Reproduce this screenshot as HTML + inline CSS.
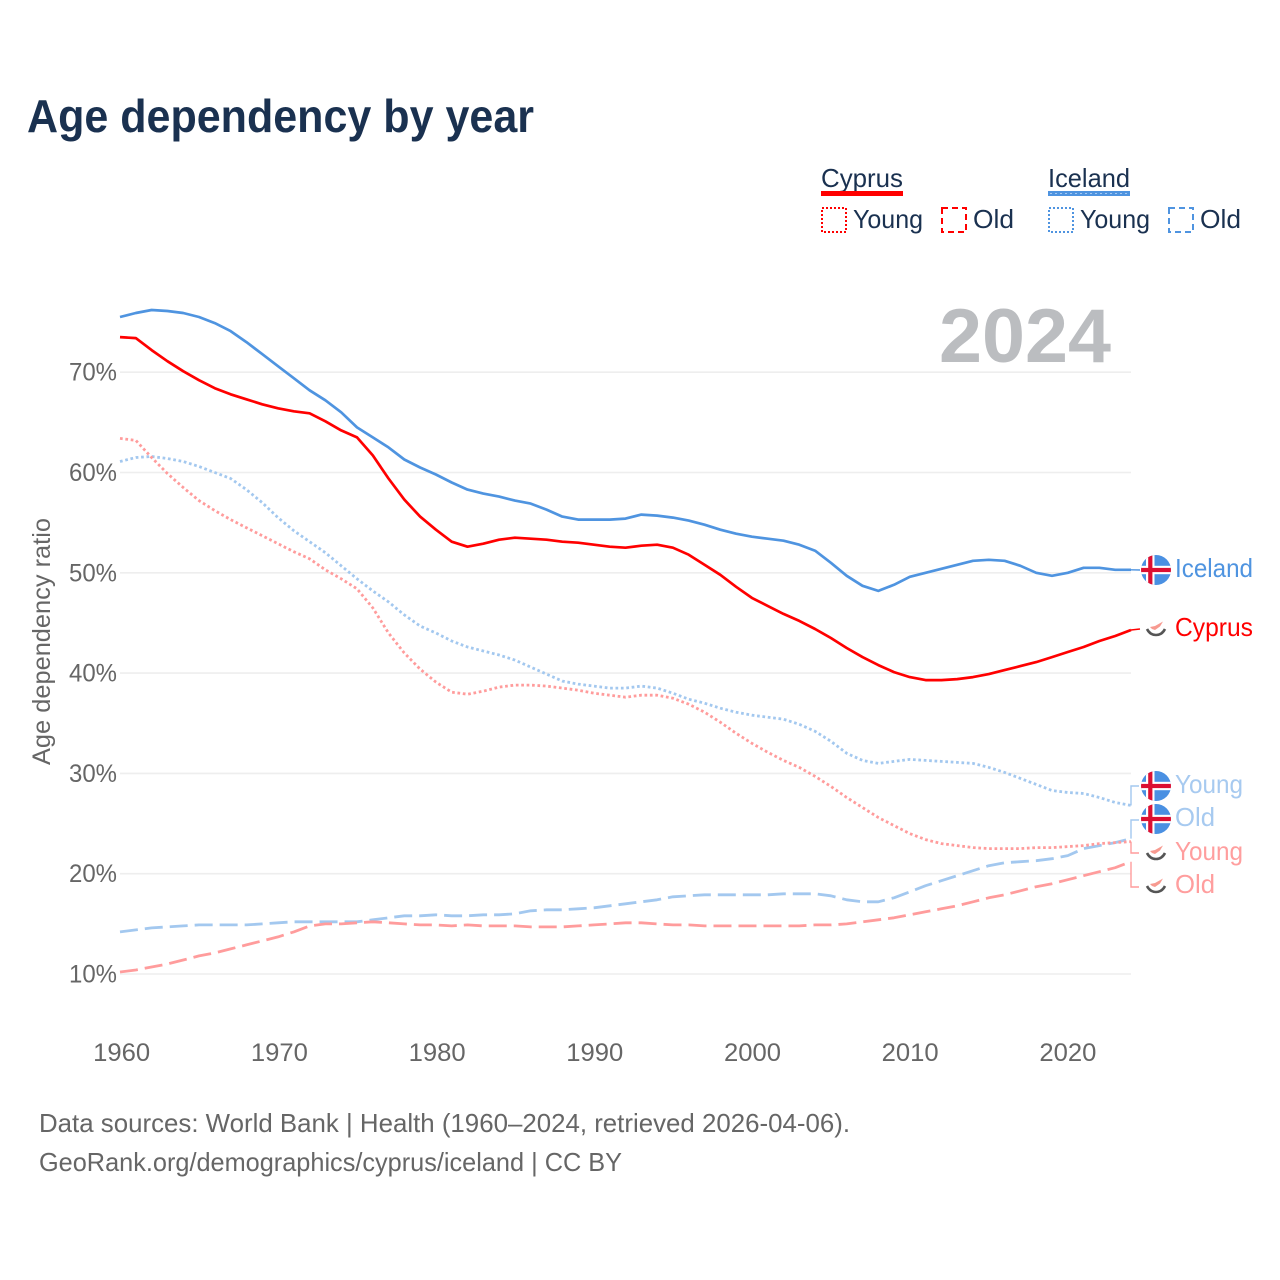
<!DOCTYPE html>
<html lang="en">
<head>
<meta charset="utf-8">
<title>Age dependency by year</title>
<style>
html,body{margin:0;padding:0;background:#fff}
svg{display:block}
text{font-family:"Liberation Sans",sans-serif}
</style>
</head>
<body>
<svg id="chart" xmlns="http://www.w3.org/2000/svg" width="1280" height="1280" viewBox="0 0 1280 1280">
<defs>
<clipPath id="flag-clip"><circle cx="0" cy="0" r="15"/></clipPath>
<g id="flag-iceland">
<g clip-path="url(#flag-clip)">
<rect x="-15" y="-15" width="30" height="30" fill="#4a90e2"/>
<rect x="-10" y="-15" width="8.5" height="30" fill="#fff"/>
<rect x="-15" y="-4.2" width="30" height="8.4" fill="#fff"/>
<rect x="-7.8" y="-15" width="4.2" height="30" fill="#dc0f32"/>
<rect x="-15" y="-2.1" width="30" height="4.2" fill="#dc0f32"/>
</g>
</g>
<g id="flag-cyprus">
<circle r="15" fill="#fff"/>
<path d="M-6,-1 L-1,-2 L7,-6.5 L4,-1.5 L-1,2 L-4,1 Z" fill="#f79a90"/>
<path d="M-9,1 Q-6,7 0,7 Q6,7 9,1" fill="none" stroke="#555" stroke-width="2.6"/>
</g>
</defs>

<text x="27" y="132" font-size="46" font-weight="700" fill="#1a3150" textLength="507" lengthAdjust="spacingAndGlyphs">Age dependency by year</text>

<g>
<text x="821" y="187" font-size="26" fill="#1a3150" textLength="82" lengthAdjust="spacingAndGlyphs">Cyprus</text>
<rect x="821" y="191" width="82" height="5" fill="#ff0000"/>
<rect x="822" y="208" width="24" height="24" fill="none" stroke="#ff0000" stroke-width="2" stroke-dasharray="2 2"/>
<text x="853" y="228" font-size="26" fill="#1a3150" textLength="70" lengthAdjust="spacingAndGlyphs">Young</text>
<rect x="942" y="208" width="24" height="24" fill="none" stroke="#ff0000" stroke-width="2" stroke-dasharray="6 4"/>
<text x="973" y="228" font-size="26" fill="#1a3150" textLength="41" lengthAdjust="spacingAndGlyphs">Old</text>

<text x="1048" y="187" font-size="26" fill="#1a3150" textLength="82" lengthAdjust="spacingAndGlyphs">Iceland</text>
<rect x="1048" y="191" width="82" height="5" fill="#4f94e0"/>
<line x1="1050" x2="1129" y1="193.5" y2="193.5" stroke="#a7caf0" stroke-width="1" stroke-dasharray="2 3"/>
<rect x="1049" y="208" width="24" height="24" fill="none" stroke="#4f94e0" stroke-width="2" stroke-dasharray="2 2"/>
<text x="1080" y="228" font-size="26" fill="#1a3150" textLength="70" lengthAdjust="spacingAndGlyphs">Young</text>
<rect x="1169" y="208" width="24" height="24" fill="none" stroke="#4f94e0" stroke-width="2" stroke-dasharray="6 4"/>
<text x="1200" y="228" font-size="26" fill="#1a3150" textLength="41" lengthAdjust="spacingAndGlyphs">Old</text>
</g>

<text x="939" y="362" font-size="76" font-weight="700" fill="#bbbdc0" textLength="172" lengthAdjust="spacingAndGlyphs">2024</text>

<text transform="translate(50,765) rotate(-90)" x="0" y="0" font-size="25" fill="#666" textLength="247" lengthAdjust="spacingAndGlyphs">Age dependency ratio</text>

<g id="grid"></g>
<g id="x-ticks"></g>
<g id="y-ticks"></g>
<g id="series"></g>
<g id="connectors"></g>

<g>
<use href="#flag-iceland" x="1156" y="570"/>
<text x="1175" y="577" font-size="26" fill="#4f94e0" textLength="78" lengthAdjust="spacingAndGlyphs">Iceland</text>
<use href="#flag-cyprus" x="1156" y="628"/>
<text x="1175" y="636" font-size="26" fill="#ff0000" textLength="78" lengthAdjust="spacingAndGlyphs">Cyprus</text>
<use href="#flag-iceland" x="1156" y="786"/>
<text x="1175" y="793" font-size="26" fill="#a7caf0" textLength="68" lengthAdjust="spacingAndGlyphs">Young</text>
<use href="#flag-iceland" x="1156" y="819"/>
<text x="1175" y="826" font-size="26" fill="#a7caf0" textLength="40" lengthAdjust="spacingAndGlyphs">Old</text>
<use href="#flag-cyprus" x="1156" y="852"/>
<text x="1175" y="860" font-size="26" fill="#ff9e9e" textLength="68" lengthAdjust="spacingAndGlyphs">Young</text>
<use href="#flag-cyprus" x="1156" y="885"/>
<text x="1175" y="893" font-size="26" fill="#ff9e9e" textLength="40" lengthAdjust="spacingAndGlyphs">Old</text>
</g>

<text x="39" y="1132" font-size="26" fill="#666" textLength="811" lengthAdjust="spacingAndGlyphs">Data sources: World Bank | Health (1960–2024, retrieved 2026-04-06).</text>
<text x="39" y="1171" font-size="26" fill="#666" textLength="583" lengthAdjust="spacingAndGlyphs">GeoRank.org/demographics/cyprus/iceland | CC BY</text>
</svg>

<script>
const startYear = 1960;
const endYear = 2024;
const xTickYears = [1960, 1970, 1980, 1990, 2000, 2010, 2020];
const yTickValues = [10, 20, 30, 40, 50, 60, 70];

const icelandTotal = [75.5,75.9,76.2,76.1,75.9,75.5,74.9,74.1,73.0,71.8,70.6,69.4,68.2,67.2,66.0,64.5,63.5,62.5,61.3,60.5,59.8,59.0,58.3,57.9,57.6,57.2,56.9,56.3,55.6,55.3,55.3,55.3,55.4,55.8,55.7,55.5,55.2,54.8,54.3,53.9,53.6,53.4,53.2,52.8,52.2,51.0,49.7,48.7,48.2,48.8,49.6,50.0,50.4,50.8,51.2,51.3,51.2,50.7,50.0,49.7,50.0,50.5,50.5,50.3,50.3];
const cyprusTotal = [73.5,73.4,72.2,71.1,70.1,69.2,68.4,67.8,67.3,66.8,66.4,66.1,65.9,65.1,64.2,63.5,61.7,59.4,57.3,55.6,54.3,53.1,52.6,52.9,53.3,53.5,53.4,53.3,53.1,53.0,52.8,52.6,52.5,52.7,52.8,52.5,51.8,50.8,49.8,48.6,47.5,46.7,45.9,45.2,44.4,43.5,42.5,41.6,40.8,40.1,39.6,39.3,39.3,39.4,39.6,39.9,40.3,40.7,41.1,41.6,42.1,42.6,43.2,43.7,44.3];
const icelandYoung = [61.1,61.5,61.6,61.4,61.1,60.6,60.0,59.4,58.3,57.0,55.5,54.2,53.1,52.0,50.7,49.4,48.2,47.1,45.8,44.7,44.0,43.2,42.6,42.2,41.8,41.3,40.6,39.9,39.2,38.9,38.7,38.5,38.5,38.7,38.5,38.0,37.4,37.0,36.5,36.1,35.8,35.6,35.4,34.9,34.2,33.2,32.0,31.3,31.0,31.2,31.4,31.3,31.2,31.1,31.0,30.6,30.1,29.5,28.9,28.3,28.1,28.0,27.6,27.1,26.8];
const cyprusYoung = [63.4,63.2,61.5,59.9,58.5,57.2,56.2,55.3,54.5,53.7,52.9,52.1,51.4,50.3,49.4,48.4,46.5,44.0,42.0,40.4,39.1,38.1,37.9,38.2,38.6,38.8,38.8,38.7,38.5,38.3,38.0,37.8,37.6,37.8,37.8,37.5,36.9,36.1,35.1,34.0,33.0,32.1,31.3,30.6,29.7,28.7,27.6,26.6,25.6,24.8,24.0,23.4,23.0,22.8,22.6,22.5,22.5,22.5,22.6,22.6,22.7,22.8,23.0,23.1,23.2];
const icelandOld = [14.2,14.4,14.6,14.7,14.8,14.9,14.9,14.9,14.9,15.0,15.1,15.2,15.2,15.2,15.2,15.2,15.4,15.6,15.8,15.8,15.9,15.8,15.8,15.9,15.9,16.0,16.3,16.4,16.4,16.5,16.6,16.8,17.0,17.2,17.4,17.7,17.8,17.9,17.9,17.9,17.9,17.9,18.0,18.0,18.0,17.8,17.4,17.2,17.2,17.6,18.2,18.8,19.3,19.8,20.3,20.8,21.1,21.2,21.3,21.5,21.8,22.5,22.8,23.1,23.5];
const cyprusOld = [10.2,10.4,10.7,11.0,11.4,11.8,12.1,12.5,12.9,13.3,13.7,14.2,14.8,15.0,15.0,15.1,15.2,15.1,15.0,14.9,14.9,14.8,14.9,14.8,14.8,14.8,14.7,14.7,14.7,14.8,14.9,15.0,15.1,15.1,15.0,14.9,14.9,14.8,14.8,14.8,14.8,14.8,14.8,14.8,14.9,14.9,15.0,15.2,15.4,15.6,15.9,16.2,16.5,16.8,17.2,17.6,17.9,18.3,18.7,19.0,19.4,19.8,20.2,20.6,21.2];

const NS = 'http://www.w3.org/2000/svg';
function xScale(year) { return 120 + (year - startYear) * (1131 - 120) / (endYear - startYear); }
function xLabelPos(year) { return 121.7 + (year - startYear) * 15.77; }
function yScale(value) { return 974 - (value - 10) * 10.03; }
function make(tag, attrs, parent) {
  const el = document.createElementNS(NS, tag);
  Object.keys(attrs).forEach(function (k) { el.setAttribute(k, attrs[k]); });
  parent.appendChild(el);
  return el;
}

const gridGroup = document.getElementById('grid');
const yTickGroup = document.getElementById('y-ticks');
yTickValues.forEach(function (v) {
  const line = make('line', { x1: 120, x2: 1131, y1: yScale(v), y2: yScale(v), stroke: '#eeeeee', 'stroke-width': 1.6 }, gridGroup);
  
  
  const label = make('text', { x: 117, y: yScale(v) + 8.5, 'text-anchor': 'end', 'font-size': 25, fill: '#666', textLength: 48, lengthAdjust: 'spacingAndGlyphs' }, yTickGroup);
  
  
  label.textContent = v + '%';
});

const xTickGroup = document.getElementById('x-ticks');
xTickYears.forEach(function (yr) {
  const label = make('text', { x: xLabelPos(yr), y: 1061, 'text-anchor': 'middle', 'font-size': 25, fill: '#666', textLength: 57, lengthAdjust: 'spacingAndGlyphs' }, xTickGroup);
  
  
  label.textContent = yr;
});

function linePath(values) {
  return values.map(function (v, i) {
    return (i ? 'L' : 'M') + xScale(startYear + i).toFixed(1) + ',' + yScale(v).toFixed(1);
  }).join(' ');
}

const seriesGroup = document.getElementById('series');
function drawSeries(values, color, dash, width, name) {
  const attrs = { d: linePath(values), fill: 'none', stroke: color, 'stroke-width': width, 'stroke-linejoin': 'round' };
  if (dash) { attrs['stroke-dasharray'] = dash; }
  const path = make('path', attrs, seriesGroup);
  
  
}
drawSeries(icelandOld, '#a3c8ef', '18 7', 2.8, 'line-iceland-old');
drawSeries(cyprusOld, '#ff9c9c', '18 7', 2.8, 'line-cyprus-old');
drawSeries(icelandYoung, '#a3c8ef', '2.7 2.7', 2.8, 'line-iceland-young');
drawSeries(cyprusYoung, '#ff9c9c', '2.7 2.7', 2.8, 'line-cyprus-young');
drawSeries(icelandTotal, '#4f94e0', '', 2.7, 'line-iceland-total');
drawSeries(cyprusTotal, '#ff0000', '', 2.7, 'line-cyprus-total');

const connectorGroup = document.getElementById('connectors');
function lastOf(values) { return values[values.length - 1]; }
function drawConnector(endValue, labelY, color, name) {
  const d = 'M1131,' + yScale(endValue).toFixed(1) + ' L1131,' + labelY + ' L1139,' + labelY;
  const path = make('path', { d: d, fill: 'none', stroke: color, 'stroke-width': 1.4 }, connectorGroup);
  
  
}
drawConnector(lastOf(icelandYoung), 786, '#a3c8ef', 'connector-iceland-young');
drawConnector(lastOf(icelandOld), 820, '#a3c8ef', 'connector-iceland-old');
drawConnector(lastOf(cyprusYoung), 853, '#ff9c9c', 'connector-cyprus-young');
drawConnector(lastOf(cyprusOld), 887, '#ff9c9c', 'connector-cyprus-old');
function drawStub(endValue, labelY, color, width, name) {
  const d = 'M1131,' + yScale(endValue).toFixed(1) + ' L1140,' + labelY;
  const path = make('path', { d: d, fill: 'none', stroke: color, 'stroke-width': width }, connectorGroup);
  
  
}
drawStub(lastOf(icelandTotal), 570, '#4f94e0', 1.4, 'connector-iceland-total');
drawStub(lastOf(cyprusTotal), 629, '#ff0000', 1.4, 'connector-cyprus-total');
</script>
</body>
</html>
